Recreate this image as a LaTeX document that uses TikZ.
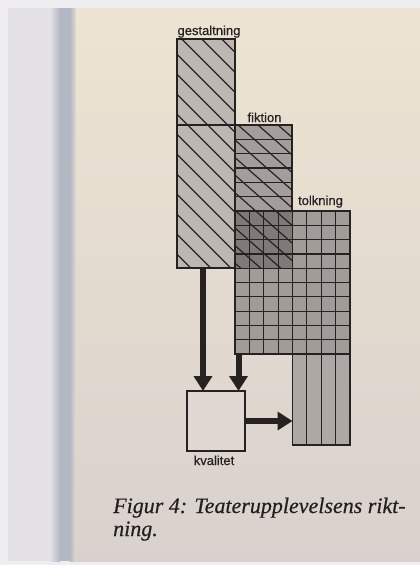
\documentclass[tikz,border=0pt]{standalone}
\usepackage{fontspec}
\setmainfont{Liberation Serif}
\setsansfont{Liberation Sans}
\newfontface\labfont{Liberation Sans}[FakeBold=0.6]
\newfontface\capfont{Liberation Serif Italic}[FakeBold=0.4]
\usetikzlibrary{arrows.meta,calc}

\definecolor{ink}{HTML}{252221}
\definecolor{gestfill}{HTML}{BDB7B2}
\definecolor{fiktfill}{HTML}{A49E9A}
\definecolor{tolkfill}{HTML}{A29C98}
\definecolor{overfill}{HTML}{7F7A77}
\definecolor{lowfill}{HTML}{AEA8A4}
\definecolor{kvfill}{HTML}{DFD8D3}
\definecolor{pagetop}{HTML}{EEE4D2}
\definecolor{pagemid}{HTML}{E2DAD3}
\definecolor{pagebot}{HTML}{D9D1CD}
\definecolor{rim}{HTML}{EEEEF0}
\definecolor{leaf}{HTML}{E4E1E5}
\definecolor{gutter}{HTML}{B3B8C3}

\tikzset{
  blk/.style={inner sep=0pt, outer sep=0pt, anchor=north west, draw=none},
  hatch/.style={draw=ink, line width=1.2pt},
  gridline/.style={draw=ink, line width=1.2pt},
  frame/.style={draw=ink, line width=1.5pt},
  bigarrow/.style={draw=ink, line width=6pt, -{Triangle[length=15pt,width=18pt]}},
  lab/.style={font=\labfont\fontsize{13}{15}\selectfont, text=ink, inner sep=0pt, anchor=base},
  captext/.style={anchor=base west, inner sep=0pt, text=ink!90!black,
    font=\capfont\fontsize{22}{24}\selectfont}
}

\begin{document}
\begin{tikzpicture}[x=1pt,y=-1pt]
\useasboundingbox (0,0) rectangle (420,565);

% paper and book gutter
\fill[rim] (0,0) rectangle (420,565);
\fill[leaf] (8,8) rectangle (56,561);
\shade[left color=leaf, right color=gutter] (50,8) rectangle (60,561);
\fill[gutter] (60,8) rectangle (70,561);
\shade[left color=gutter, right color=pagetop!80!gutter] (70,8) rectangle (76,561);
\shade[top color=pagetop, middle color=pagemid, bottom color=pagebot] (76,8) rectangle (420,561);

% blocks
\node[blk, minimum width=58pt, minimum height=229pt, fill=gestfill] (gest) at (177,39) {};
\node[blk, minimum width=57pt, minimum height=143pt, fill=fiktfill] (fikt) at (235,125) {};
\node[blk, minimum width=115pt, minimum height=143pt, fill=tolkfill] (tolk) at (235,211) {};
\node[blk, minimum width=57.5pt, minimum height=91pt, fill=lowfill] (lower) at (292.5,354) {};
\node[blk, minimum width=58pt, minimum height=60pt, fill=kvfill] (kval) at (187,391) {};

% fiktion and tolkning overlap
\fill[overfill] (tolk.north west) rectangle (fikt.south east);

% gestaltning hatching
\begin{scope}
  \clip (gest.south west) rectangle (gest.north east);
  \foreach \k in {-97.3,-77.3,...,210} \draw[hatch] (\k,0) -- ++(320,320);
\end{scope}
\draw[gridline] (gest.west |- fikt.north) -- (gest.east |- fikt.north);

% fiktion hatching (its lower rows share the tolkning grid lines)
\begin{scope}
  \clip (fikt.south west) rectangle (fikt.north east);
  \foreach \k in {78,98,...,292} \draw[hatch] (\k,125) -- ++(200,176);
\end{scope}
\foreach \j in {1,...,5} \draw[gridline] (235,125+\j*14.3) -- ++(57,0);

% tolkning grid
\foreach \i in {1,...,7} \draw[gridline] (235+\i*14.375,211) -- ++(0,143);
\foreach \j in {1,...,9} \draw[gridline] (235,211+\j*14.3) -- ++(115,0);
\foreach \i in {5,6,7} \draw[gridline] (235+\i*14.375,354) -- ++(0,91);

% outlines
\draw[frame] (gest.south west) rectangle (gest.north east);
\draw[frame] (fikt.west |- tolk.north) -- (fikt.north west) -- (fikt.north east) -- (fikt.east |- tolk.north);
\draw[frame] (tolk.south west) rectangle (tolk.north east);
\draw[frame] (lower.south west) rectangle (lower.north east);
\draw[frame] (kval.south west) rectangle (kval.north east);

% arrows
\coordinate (a1) at (203,0);
\coordinate (a2) at (238.5,0);
\coordinate (a3) at (0,421);
\draw[bigarrow] (gest.south -| a1) -- (kval.north -| a1);
\draw[bigarrow] (tolk.south -| a2) -- (kval.north -| a2);
\draw[bigarrow] (kval.east |- a3) -- (lower.west |- a3);

% labels
\node[lab] (lgest) at (209,35) {gestaltning};
\node[lab] (lfikt) at (264.5,122) {fiktion};
\node[lab] (ltolk) at (320.5,205) {tolkning};
\node[lab] (lkval) at (214,465) {kvalitet};

% caption
\node[captext] (cap1) at (113,513) {Figur 4: Teaterupplevelsens rikt-};
\node[captext] (cap2) at (113,536) {ning.};
\end{tikzpicture}
\end{document}
